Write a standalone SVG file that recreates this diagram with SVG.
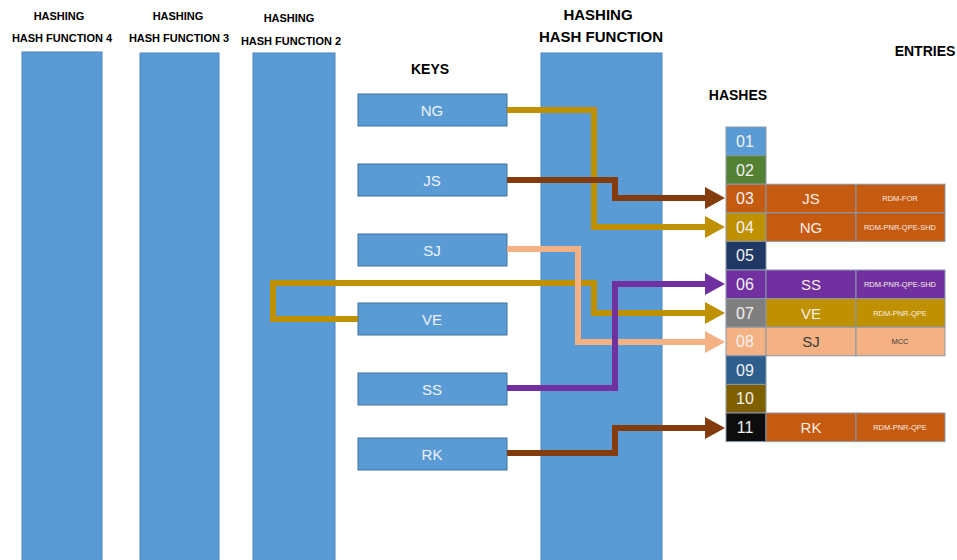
<svg xmlns="http://www.w3.org/2000/svg" width="957" height="560" viewBox="0 0 957 560">
<style>
.hdr{font-family:"Liberation Sans",Arial,sans-serif;font-weight:bold;fill:#000;text-anchor:middle}
.bar{fill:#5b9bd5;stroke:#4a86c0;stroke-width:1}
.key{fill:#5b9bd5;stroke:#41719c;stroke-width:1}
.kt{font-family:"Liberation Sans",Arial,sans-serif;font-size:15px;fill:#eef3fa;text-anchor:middle}
.ht{font-family:"Liberation Sans",Arial,sans-serif;font-size:16px;fill:#f2f2f2;text-anchor:middle}
.nt{font-family:"Liberation Sans",Arial,sans-serif;font-size:15px;fill:#fbeee4;text-anchor:middle}
.dt{font-family:"Liberation Sans",Arial,sans-serif;font-size:7.5px;fill:#fbeee4;text-anchor:middle}
.dark{fill:#3a3a3a}
.cell{stroke:#8a97a8;stroke-width:1}
.conn{fill:none;stroke-width:6;stroke-linejoin:miter;stroke-linecap:butt}
</style>
<defs>
<marker id="ah-gold" viewBox="0 0 20 22" refX="0" refY="11" markerWidth="20" markerHeight="22" markerUnits="userSpaceOnUse" orient="auto"><path d="M0,0 L20,11 L0,22 Z" fill="#bf9000"/></marker>
<marker id="ah-brown" viewBox="0 0 20 22" refX="0" refY="11" markerWidth="20" markerHeight="22" markerUnits="userSpaceOnUse" orient="auto"><path d="M0,0 L20,11 L0,22 Z" fill="#843c0c"/></marker>
<marker id="ah-peach" viewBox="0 0 20 22" refX="0" refY="11" markerWidth="20" markerHeight="22" markerUnits="userSpaceOnUse" orient="auto"><path d="M0,0 L20,11 L0,22 Z" fill="#f4b183"/></marker>
<marker id="ah-purple" viewBox="0 0 20 22" refX="0" refY="11" markerWidth="20" markerHeight="22" markerUnits="userSpaceOnUse" orient="auto"><path d="M0,0 L20,11 L0,22 Z" fill="#7030a0"/></marker>
</defs>
<rect width="957" height="560" fill="#ffffff"/>

<g id="hash-function-4">
<text class="hdr" x="59" y="20" font-size="11">HASHING</text>
<text class="hdr" x="62" y="42" font-size="11">HASH FUNCTION 4</text>
<rect class="bar" x="22" y="52" width="80" height="510"/>
</g>
<g id="hash-function-3">
<text class="hdr" x="178" y="20" font-size="11">HASHING</text>
<text class="hdr" x="179" y="42" font-size="11">HASH FUNCTION 3</text>
<rect class="bar" x="140" y="53" width="79" height="510"/>
</g>
<g id="hash-function-2">
<text class="hdr" x="289" y="22" font-size="11">HASHING</text>
<text class="hdr" x="291" y="45" font-size="11">HASH FUNCTION 2</text>
<rect class="bar" x="253" y="53" width="82" height="510"/>
</g>
<g id="hash-function">
<text class="hdr" x="598" y="20" font-size="15">HASHING</text>
<text class="hdr" x="601" y="42" font-size="15">HASH FUNCTION</text>
<rect class="bar" x="541" y="53" width="121" height="510"/>
</g>

<g id="labels">
<text class="hdr" x="430" y="74" font-size="14">KEYS</text>
<text class="hdr" x="738" y="100" font-size="14">HASHES</text>
<text class="hdr" x="925" y="56" font-size="14">ENTRIES</text>
</g>

<g id="key-NG"><rect class="key" x="358" y="94" width="149" height="32"/><text class="kt" x="432" y="116">NG</text></g>
<g id="key-JS"><rect class="key" x="358" y="164" width="149" height="32"/><text class="kt" x="432" y="186">JS</text></g>
<g id="key-SJ"><rect class="key" x="358" y="234" width="149" height="32"/><text class="kt" x="432" y="256">SJ</text></g>
<g id="key-VE"><rect class="key" x="358" y="303" width="149" height="32"/><text class="kt" x="432" y="325">VE</text></g>
<g id="key-SS"><rect class="key" x="358" y="373" width="149" height="32"/><text class="kt" x="432" y="395">SS</text></g>
<g id="key-RK"><rect class="key" x="358" y="438" width="149" height="32"/><text class="kt" x="432" y="460">RK</text></g>

<g id="hash-01"><rect class="cell" x="726" y="127" width="40" height="28.6" fill="#5b9bd5"/><text class="ht" x="745" y="147">01</text></g>
<g id="hash-02"><rect class="cell" x="726" y="155.6" width="40" height="28.6" fill="#548235"/><text class="ht" x="745" y="175.5">02</text></g>
<g id="hash-03"><rect class="cell" x="726" y="184.2" width="40" height="28.6" fill="#c55a11"/><text class="ht" x="745" y="204">03</text></g>
<g id="hash-04"><rect class="cell" x="726" y="212.8" width="40" height="28.6" fill="#bf9000"/><text class="ht" x="745" y="232.5">04</text></g>
<g id="hash-05"><rect class="cell" x="726" y="241.4" width="40" height="28.6" fill="#1f3864"/><text class="ht" x="745" y="261">05</text></g>
<g id="hash-06"><rect class="cell" x="726" y="270" width="40" height="28.6" fill="#7030a0"/><text class="ht" x="745" y="290">06</text></g>
<g id="hash-07"><rect class="cell" x="726" y="298.6" width="40" height="28.6" fill="#7f7f7f"/><text class="ht" x="745" y="318.5">07</text></g>
<g id="hash-08"><rect class="cell" x="726" y="327.2" width="40" height="28.6" fill="#f4b183"/><text class="ht" x="745" y="347">08</text></g>
<g id="hash-09"><rect class="cell" x="726" y="355.8" width="40" height="28.6" fill="#2e5e8c"/><text class="ht" x="745" y="375.5">09</text></g>
<g id="hash-10"><rect class="cell" x="726" y="384.4" width="40" height="28.6" fill="#7f6000"/><text class="ht" x="745" y="404">10</text></g>
<g id="hash-11"><rect class="cell" x="726" y="413" width="40" height="28.6" fill="#0d0d0d"/><text class="ht" x="745" y="433">11</text></g>

<g id="entry-03"><rect class="cell" x="766" y="184.2" width="90" height="28.6" fill="#c55a11"/><rect class="cell" x="856" y="184.2" width="89" height="28.6" fill="#c55a11"/><text class="nt" x="811" y="204">JS</text><text class="dt" x="900" y="201">RDM-FOR</text></g>
<g id="entry-04"><rect class="cell" x="766" y="212.8" width="90" height="28.6" fill="#c55a11"/><rect class="cell" x="856" y="212.8" width="89" height="28.6" fill="#c55a11"/><text class="nt" x="811" y="232.5">NG</text><text class="dt" x="900" y="230">RDM-PNR-QPE-SHD</text></g>
<g id="entry-06"><rect class="cell" x="766" y="270" width="90" height="28.6" fill="#7030a0"/><rect class="cell" x="856" y="270" width="89" height="28.6" fill="#7030a0"/><text class="nt" x="811" y="290">SS</text><text class="dt" x="900" y="287">RDM-PNR-QPE-SHD</text></g>
<g id="entry-07"><rect class="cell" x="766" y="298.6" width="90" height="28.6" fill="#bf9000"/><rect class="cell" x="856" y="298.6" width="89" height="28.6" fill="#bf9000"/><text class="nt" x="811" y="318.5">VE</text><text class="dt" x="900" y="315.5">RDM-PNR-QPE</text></g>
<g id="entry-08"><rect class="cell" x="766" y="327.2" width="90" height="28.6" fill="#f4b183"/><rect class="cell" x="856" y="327.2" width="89" height="28.6" fill="#f4b183"/><text class="nt dark" x="811" y="347">SJ</text><text class="dt dark" x="900" y="344">MCC</text></g>
<g id="entry-11"><rect class="cell" x="766" y="413" width="90" height="28.6" fill="#c55a11"/><rect class="cell" x="856" y="413" width="89" height="28.6" fill="#c55a11"/><text class="nt" x="811" y="433">RK</text><text class="dt" x="900" y="430">RDM-PNR-QPE</text></g>

<g id="connectors">
<path class="conn" stroke="#bf9000" d="M507,110 H594 V227 H705" marker-end="url(#ah-gold)"/>
<path class="conn" stroke="#bf9000" d="M358,319 H273 V283 H594 V313 H705" marker-end="url(#ah-gold)"/>
<path class="conn" stroke="#f4b183" d="M507,249 H578 V342 H705" marker-end="url(#ah-peach)"/>
<path class="conn" stroke="#843c0c" d="M507,180 H615 V198 H705" marker-end="url(#ah-brown)"/>
<path class="conn" stroke="#7030a0" d="M507,388 H615 V284 H705" marker-end="url(#ah-purple)"/>
<path class="conn" stroke="#843c0c" d="M507,453 H615 V428 H705" marker-end="url(#ah-brown)"/>
</g>
</svg>
